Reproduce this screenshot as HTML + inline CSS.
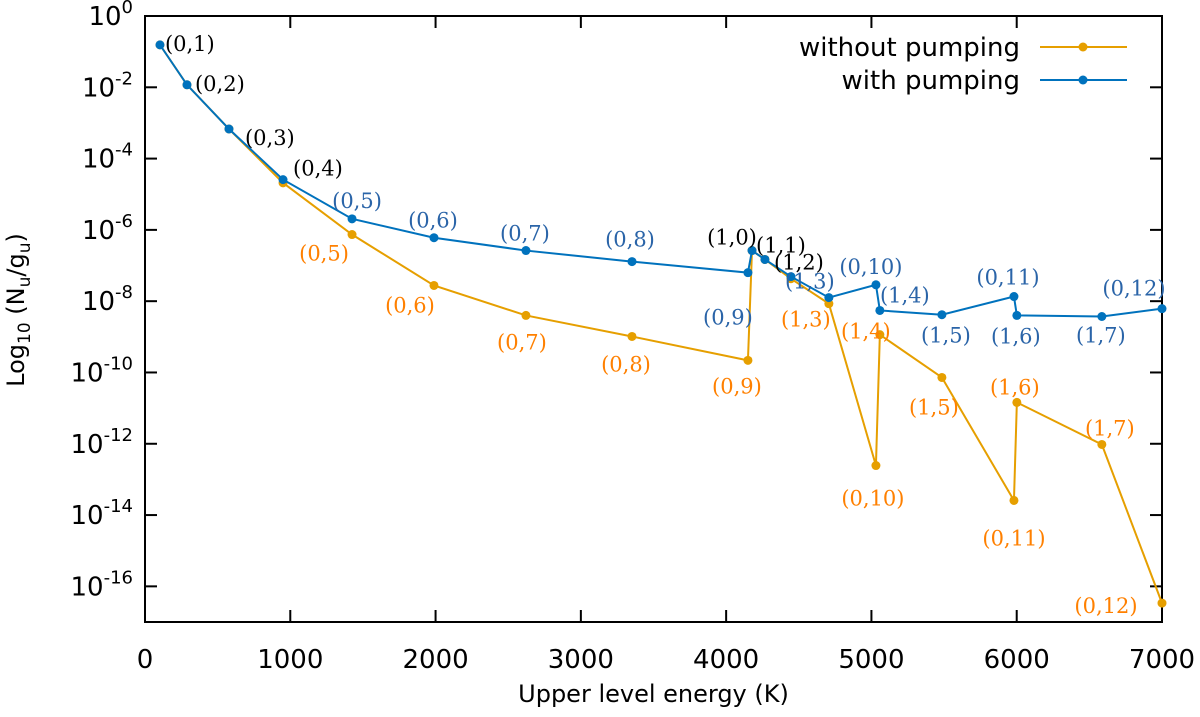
<!DOCTYPE html>
<html><head><meta charset="utf-8"><style>
body{margin:0;background:#fff}
svg{display:block}
.tk{font-family:"DejaVu Sans","Liberation Sans",sans-serif;font-size:26px;fill:#000}
.lb{font-family:"DejaVu Serif","Liberation Serif",serif;font-size:21px}
</style></head><body>
<svg id="chart" width="1200" height="717" viewBox="0 0 1200 717" xmlns="http://www.w3.org/2000/svg"></svg>
<script>
const levels=["(0,1)","(0,2)","(0,3)","(0,4)","(0,5)","(0,6)","(0,7)","(0,8)","(0,9)","(1,0)","(1,1)","(1,2)","(1,3)","(0,10)","(1,4)","(1,5)","(0,11)","(1,6)","(1,7)","(0,12)"];
const energies=[103,289,578,950,1425,1989,2622,3352,4150,4178,4267,4446,4707,5031,5058,5485,5981,6001,6586,7000];
const logWith=[-0.81,-1.93,-3.17,-4.59,-5.69,-6.22,-6.58,-6.89,-7.20,-6.58,-6.83,-7.31,-7.90,-7.54,-8.26,-8.38,-7.87,-8.40,-8.43,-8.21];
const logWithout=[-0.81,-1.93,-3.17,-4.68,-6.13,-7.56,-8.40,-8.99,-9.66,-6.58,-6.83,-7.37,-8.07,-12.61,-8.94,-10.14,-13.59,-10.84,-12.02,-16.47];
const xTicks=[0,1000,2000,3000,4000,5000,6000,7000];
const yTickExp=[0,-2,-4,-6,-8,-10,-12,-14,-16];
const L=145,R=1162,T=16,B=622,X0=0,X1=7000,Y0=0,Y1=-17;
const xs=v=>L+(v-X0)/(X1-X0)*(R-L);
const ys=v=>T+(v-Y0)/(Y1-Y0)*(B-T);
const svg=document.getElementById('chart');
const NS='http://www.w3.org/2000/svg';
function mk(tag,a,parent){const e=document.createElementNS(NS,tag);for(const k in a)e.setAttribute(k,a[k]);(parent||svg).appendChild(e);return e;}
const fr=mk('rect',{x:L,y:T,width:R-L,height:B-T,fill:'none',stroke:'#000','stroke-width':2});


xTicks.forEach(v=>{const x=xs(v);
 mk('line',{x1:x,y1:B,x2:x,y2:B-12,stroke:'#000','stroke-width':2});
 mk('line',{x1:x,y1:T,x2:x,y2:T+12,stroke:'#000','stroke-width':2});
 const t=mk('text',{x:x,y:B+46,'text-anchor':'middle',class:'tk'});t.textContent=v;
 
 
});
yTickExp.forEach(v=>{const y=ys(v);
 mk('line',{x1:L,y1:y,x2:L+12,y2:y,stroke:'#000','stroke-width':2});
 mk('line',{x1:R,y1:y,x2:R-12,y2:y,stroke:'#000','stroke-width':2});
 const t=mk('text',{x:L-12,y:y+9,'text-anchor':'end',class:'tk'});
 
 
 t.innerHTML='10<tspan dy="-12" font-size="18">'+v+'</tspan>';
});
const xt=mk('text',{x:(L+R)/2,y:702,'text-anchor':'middle',class:'tk',style:'font-size:24px'});xt.textContent='Upper level energy (K)';


const yt=mk('text',{x:0,y:0,'text-anchor':'middle',class:'tk',style:'font-size:24px',transform:'translate(24,310) rotate(-90)'});


yt.innerHTML='Log<tspan dy="6" font-size="17">10</tspan><tspan dy="-6"> (N</tspan><tspan dy="6" font-size="17">u</tspan><tspan dy="-6">/g</tspan><tspan dy="6" font-size="17">u</tspan><tspan dy="-6">)</tspan>';
function series(vals,color,name){
 const g=mk('g',{});
 
 
 mk('polyline',{points:energies.map((e,i)=>xs(e)+','+ys(vals[i])).join(' '),fill:'none',stroke:color,'stroke-width':2},g);
 energies.forEach((e,i)=>{const c=mk('circle',{cx:xs(e),cy:ys(vals[i]),r:4.5,fill:color},g);
  
  });
}
series(logWithout,'#e69f00','without-pumping-series');
series(logWith,'#0072bd','with-pumping-series');
const labelOffsets=[
 [0,5,-2,'#000','start'],[1,8,-2,'#000','start'],[2,16,8,'#000','start'],[3,10,-12,'#000','start'],
 [9,-20,-14,'#000','middle'],[10,16,-15,'#000','middle'],[11,8,-15,'#000','middle'],
 [4,5,-19,'#2a64a8','middle'],[5,-1,-18,'#2a64a8','middle'],[6,-1,-18,'#2a64a8','middle'],[7,-2,-23,'#2a64a8','middle'],
 [8,-20,44,'#2a64a8','middle'],[12,-19,-17,'#2a64a8','middle'],[13,-5,-19,'#2a64a8','middle'],[14,25,-16,'#2a64a8','middle'],
 [15,4,20,'#2a64a8','middle'],[16,-6,-20,'#2a64a8','middle'],[17,-1,20,'#2a64a8','middle'],[18,-1,18,'#2a64a8','middle'],[19,-28,-21,'#2a64a8','middle']];
const labelOffsetsO=[[4,-28,11],[5,-24,12],[6,-4,19],[7,-6,20],[8,-11,18],[12,-23,8],[13,-3,25],[14,-14,-11],[15,-8,22],[16,0,30],[17,-2,-23],[18,8,-24],[19,-56,-5]];
labelOffsets.forEach(([i,dx,dy,c,a])=>{const t=mk('text',{x:xs(energies[i])+dx,y:ys(logWith[i])+dy+8,'text-anchor':a,class:'lb',fill:c});t.textContent=levels[i];
 
 });
labelOffsetsO.forEach(([i,dx,dy])=>{const t=mk('text',{x:xs(energies[i])+dx,y:ys(logWithout[i])+dy+8+7,'text-anchor':'middle',class:'lb',fill:'#ff8000'});t.textContent=levels[i];
 
 });
[['without pumping','#e69f00',47],['with pumping','#0072bd',80]].forEach(([n,c,y])=>{
 const g=mk('g',{});
 
 
 const t=mk('text',{x:1020,y:y+9,'text-anchor':'end',class:'tk'},g);t.textContent=n;
 mk('line',{x1:1040,y1:y,x2:1127,y2:y,stroke:c,'stroke-width':2},g);
 mk('circle',{cx:1083,cy:y,r:4.5,fill:c},g);
});
</script>
</body></html>
